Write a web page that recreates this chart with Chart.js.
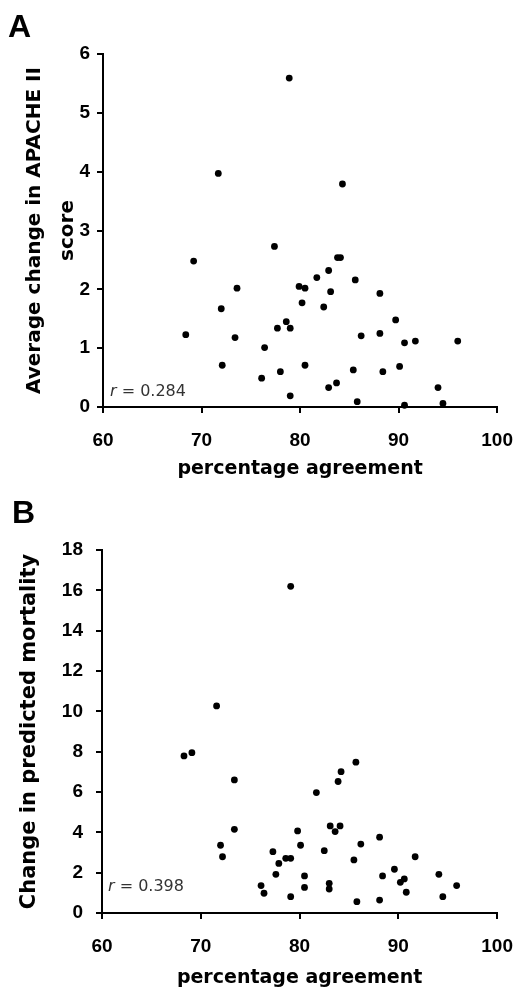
<!DOCTYPE html>
<html>
<head>
<meta charset="utf-8">
<script src="https://cdn.jsdelivr.net/npm/chart.js@4"></script>
<style>
  body { margin: 0; background: #fff; }
  #wrap { position: relative; width: 529px; height: 991px; }
  canvas { position: absolute; left: 0; }
  #chartA { top: 0; }
  #chartB { top: 490px; }
</style>
</head>
<body>
<div id="wrap">
  <canvas id="chartA" width="529" height="480"></canvas>
  <canvas id="chartB" width="529" height="501"></canvas>
</div>
<script>
// panel A: percentage agreement vs average change in APACHE II score
const agreeA = [78.9, 71.7, 77.4, 69.2, 73.6, 79.9, 80.5, 72.0, 80.2, 78.6, 77.7, 79.0, 68.4, 73.4, 76.4,
  72.1, 80.5, 78.0, 76.1, 79.0, 84.3, 83.8, 84.1, 82.9, 81.7, 85.6, 83.1, 88.1, 82.4, 89.7,
  86.2, 88.1, 90.6, 91.7, 96.0, 85.4, 88.4, 90.1, 82.9, 83.7, 94.0, 85.8, 90.6, 94.5]
const apacheA = [5.59, 3.97, 2.73, 2.48, 2.02, 2.05, 2.02, 1.67, 1.77, 1.45, 1.34, 1.34, 1.23, 1.18, 1.01,
  0.71, 0.71, 0.60, 0.49, 0.19, 3.79, 2.54, 2.54, 2.32, 2.20, 2.16, 1.96, 1.93, 1.70, 1.48,
  1.21, 1.25, 1.09, 1.12, 1.12, 0.63, 0.60, 0.69, 0.33, 0.41, 0.33, 0.09, 0.03, 0.06]

// panel B: percentage agreement vs change in predicted mortality
const agreeB = [79.1, 71.6, 68.3, 69.1, 73.4, 73.4, 79.8, 72.0, 80.1, 72.2, 77.3, 77.9, 78.6, 79.1, 77.6,
  76.1, 76.4, 79.1, 80.5, 80.5, 85.7, 84.2, 83.9, 81.7, 83.1, 84.1, 83.6, 88.1, 86.2, 82.5,
  85.5, 91.7, 89.6, 94.1, 88.4, 90.6, 90.2, 83.0, 83.0, 95.9, 90.8, 94.5, 85.8, 88.1]
const mortalityB = [16.2, 10.27, 7.79, 7.95, 6.60, 4.15, 4.07, 3.36, 3.36, 2.79, 3.04, 2.46, 2.71, 2.71, 1.92,
  1.36, 0.98, 0.81, 1.84, 1.27, 7.48, 7.01, 6.52, 5.97, 4.32, 4.32, 4.04, 3.76, 3.42, 3.09,
  2.63, 2.79, 2.17, 1.92, 1.84, 1.69, 1.52, 1.47, 1.19, 1.36, 1.03, 0.81, 0.56, 0.64]

const xTicks = [60, 70, 80, 90, 100]
const yTicksA = [0, 1, 2, 3, 4, 5, 6]
const yTicksB = [0, 2, 4, 6, 8, 10, 12, 14, 16, 18]

const tickFont = { family: '"Liberation Sans", Arial, sans-serif', size: 19, weight: 'bold' }
const titleFont = { family: '"DejaVu Sans", sans-serif', size: 19, weight: 'bold' }

// panel letter and the r value in the corner
function cornerText(letter, lx, ly, rText, rx, ry) {
  return {
    id: 'cornerText',
    afterDraw(chart) {
      const ctx = chart.ctx
      ctx.save()
      ctx.fillStyle = '#000'
      ctx.textBaseline = 'alphabetic'
      ctx.font = 'bold 32px "Liberation Sans", Arial, sans-serif'
      ctx.fillText(letter, lx, ly)
      ctx.fillStyle = '#333'
      ctx.textBaseline = 'middle'
      ctx.font = 'italic 16px "DejaVu Sans", sans-serif'
      ctx.fillText('r', rx, ry)
      const w = ctx.measureText('r').width
      ctx.font = '16px "DejaVu Sans", sans-serif'
      ctx.fillText(' = ' + rText, rx + w, ry)
      ctx.restore()
    }
  }
}

function axisBase(ticks) {
  return {
    type: 'linear',
    min: ticks[0],
    max: ticks[ticks.length - 1],
    afterBuildTicks: s => { s.ticks = ticks.map(v => ({ value: v })) },
    border: { display: true, color: '#000', width: 2 },
    grid: { drawOnChartArea: false, color: '#000', lineWidth: 2, tickLength: 6 },
  }
}

function panel(id, xs, ys, yTicks, o) {
  const points = xs.map((x, i) => ({ x: x, y: ys[i] }))
  return new Chart(document.getElementById(id), {
    type: 'scatter',
    data: {
      datasets: [{
        data: points,
        backgroundColor: '#000',
        borderWidth: 0,
        pointRadius: 3.4,
        pointHoverRadius: 3.4,
        clip: false
      }]
    },
    options: {
      responsive: false,
      animation: false,
      layout: { padding: { top: o.top, right: o.right, left: 0, bottom: 0 } },
      plugins: { legend: { display: false }, tooltip: { enabled: false } },
      scales: {
        x: Object.assign(axisBase(xTicks), {
          afterFit: s => { s.height = o.xh },
          ticks: { font: tickFont, color: '#000', padding: 16, maxRotation: 0 },
          title: { display: true, text: 'percentage agreement', font: titleFont, color: '#000', padding: { top: 0, bottom: o.xtpad } }
        }),
        y: Object.assign(axisBase(yTicks), {
          afterFit: s => { s.width = o.yw },
          ticks: { font: tickFont, color: '#000', padding: o.ypad },
          title: {
            display: true, text: o.ytitle, color: '#000',
            font: { family: '"DejaVu Sans", sans-serif', size: o.ysize, weight: 'bold', lineHeight: o.ylh },
            padding: { top: o.ytpad, bottom: 0 }
          }
        })
      }
    },
    plugins: [cornerText(o.letter, o.lx, o.ly, o.r, o.rx, o.ry)]
  })
}

panel('chartA', agreeA, apacheA, yTicksA, {
  top: 54, right: 21, xh: 73, yw: 103, ypad: 7, xtpad: 0,
  ytitle: ['Average change in APACHE II', 'score'], ysize: 20, ylh: 1.65, ytpad: 18,
  letter: 'A', lx: 8, ly: 37, r: '0.284', rx: 110, ry: 392
})

panel('chartB', agreeB, mortalityB, yTicksB, {
  top: 60, right: 16, xh: 78, yw: 102, ypad: 13, xtpad: 2,
  ytitle: 'Change in predicted mortality', ysize: 21, ylh: 1.2, ytpad: 17,
  letter: 'B', lx: 12, ly: 33, r: '0.398', rx: 108, ry: 397
})
</script>
</body>
</html>
